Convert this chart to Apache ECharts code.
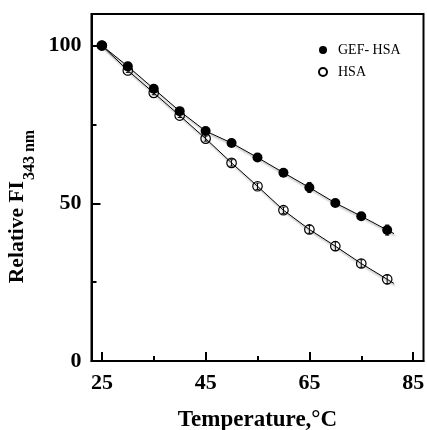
<!DOCTYPE html>
<html><head><meta charset="utf-8">
<script src="https://cdn.jsdelivr.net/npm/echarts@6/dist/echarts.min.js"></script>
<style>html,body{margin:0;padding:0;background:#fff}#c{width:427px;height:430px}</style>
</head><body><div id="c"></div>
<script>
const temperatures = [25, 30, 35, 40, 45, 50, 55, 60, 65, 70, 75, 80];
const gefHsa = [100, 93.4, 86.3, 79.2, 72.9, 69.1, 64.5, 59.7, 55.0, 50.1, 45.9, 41.5];
const hsa = [100, 92.1, 85.0, 77.8, 70.5, 62.8, 55.4, 47.8, 41.7, 36.4, 30.9, 25.9];
const gefErr = [0.3, 0.8, 0.8, 0.8, 0.6, 0.6, 0.6, 0.8, 1.6, 1.0, 1.0, 1.6];
const hsaErr = [0.3, 0.6, 0.6, 0.6, 0.8, 1.0, 1.0, 1.0, 1.2, 1.4, 1.2, 1.4];
const gefFitEnd = [81.3, 40.4];
const hsaFitEnd = [81.3, 24.6];
const xTicks = [25, 45, 65, 85];
const xMinorTicks = [35, 55, 75];
const yTicks = [0, 50, 100];
const yMinorTicks = [25, 75];
const seriesNames = ['GEF- HSA', 'HSA'];

const FONT = '"Liberation Serif", "Times New Roman", serif';
const pts = (vals) => temperatures.map((t, i) => [t, vals[i]]);
const errPts = (vals, errs) => temperatures.map((t, i) => [t, vals[i], errs[i]]);

function errorBar(params, api) {
  const x = api.value(0), y = api.value(1), e = api.value(2);
  const top = api.coord([x, y + e]);
  const bot = api.coord([x, y - e]);
  const st = { stroke: '#000', lineWidth: 1 };
  return {
    type: 'group',
    children: [
      { type: 'line', shape: { x1: top[0], y1: top[1], x2: bot[0], y2: bot[1] }, style: st },
      { type: 'line', shape: { x1: top[0] - 2, y1: top[1], x2: top[0] + 2, y2: top[1] }, style: st },
      { type: 'line', shape: { x1: bot[0] - 2, y1: bot[1], x2: bot[0] + 2, y2: bot[1] }, style: st }
    ]
  };
}

const fitLine = {
  color: '#000', width: 1,
  shadowColor: 'rgba(0,0,0,0.45)', shadowBlur: 2, shadowOffsetX: 1, shadowOffsetY: 2
};

const chart = echarts.init(document.getElementById('c'), null, { renderer: 'canvas' });
chart.setOption({
  animation: false,
  backgroundColor: '#fff',
  grid: { left: 91.5, right: 3.5, top: 14, bottom: 69, containLabel: false, outerBoundsMode: 'none', show: true, borderColor: '#000', borderWidth: 2, backgroundColor: 'transparent' },
  legend: {
    data: [{ name: seriesNames[0], icon: 'circle' }, { name: seriesNames[1], icon: 'circle' }],
    orient: 'vertical', left: 313, top: 38,
    itemWidth: 8, itemHeight: 8, itemGap: 8,
    textStyle: { fontFamily: FONT, fontSize: 14, color: '#000', padding: [0, 0, 0, 6] }
  },
  xAxis: [
    {
      type: 'value', min: 23, max: 87,
      axisLine: { lineStyle: { color: '#000', width: 2 } },
      axisTick: { inside: true, length: 9, customValues: xTicks, lineStyle: { color: '#000', width: 2 } },
      axisLabel: { customValues: xTicks, fontFamily: FONT, fontWeight: 'bold', fontSize: 22, color: '#000', margin: 11 },
      splitLine: { show: false },
      name: 'Temperature,°C', nameLocation: 'middle', nameGap: 48,
      nameTextStyle: { fontFamily: FONT, fontWeight: 'bold', fontSize: 23, color: '#000' }
    },
    {
      type: 'value', min: 23, max: 87, position: 'bottom',
      axisLine: { show: false },
      axisTick: { inside: true, length: 5, customValues: xMinorTicks, lineStyle: { color: '#000', width: 2 } },
      axisLabel: { show: false }, splitLine: { show: false }
    }
  ],
  yAxis: [
    {
      type: 'value', min: 0, max: 110,
      axisLine: { lineStyle: { color: '#000', width: 2 } },
      axisTick: { inside: true, length: 9, customValues: yTicks, lineStyle: { color: '#000', width: 2 } },
      axisLabel: { customValues: yTicks, fontFamily: FONT, fontWeight: 'bold', fontSize: 22, color: '#000', margin: 10 },
      splitLine: { show: false },
      name: '{a|Relative FI}{s|343 nm}', nameLocation: 'middle', nameGap: 46,
      nameTextStyle: {
        fontFamily: FONT, fontWeight: 'bold', color: '#000', padding: [0, 38, 0, 0],
        rich: {
          a: { fontFamily: FONT, fontWeight: 'bold', fontSize: 21.5, color: '#000', verticalAlign: 'top', lineHeight: 22 },
          s: { fontFamily: FONT, fontWeight: 'bold', fontSize: 16, color: '#000', verticalAlign: 'top', lineHeight: 15, padding: [15, 0, 0, 1] }
        }
      }
    },
    {
      type: 'value', min: 0, max: 110, position: 'left',
      axisLine: { show: false },
      axisTick: { inside: true, length: 5, customValues: yMinorTicks, lineStyle: { color: '#000', width: 2 } },
      axisLabel: { show: false }, splitLine: { show: false }
    }
  ],
  series: [
    { name: 'fit1', type: 'line', data: pts(gefHsa).concat([gefFitEnd]), symbol: 'none', lineStyle: fitLine, z: 1 },
    { name: 'fit2', type: 'line', data: pts(hsa).concat([hsaFitEnd]), symbol: 'none', lineStyle: fitLine, z: 1 },
    { name: 'err1', type: 'custom', renderItem: errorBar, data: errPts(gefHsa, gefErr), z: 2 },
    { name: 'err2', type: 'custom', renderItem: errorBar, data: errPts(hsa, hsaErr), z: 4 },
    { name: seriesNames[0], type: 'scatter', data: pts(gefHsa), symbol: 'circle', symbolSize: 10, itemStyle: { color: '#000', opacity: 1 }, z: 3 },
    { name: seriesNames[1], type: 'scatter', data: pts(hsa), symbol: 'circle', symbolSize: 9.5, itemStyle: { color: 'rgba(255,255,255,0)', borderColor: '#000', borderWidth: 1.2, opacity: 1 }, z: 3 }
  ]
});
</script>
</body></html>
